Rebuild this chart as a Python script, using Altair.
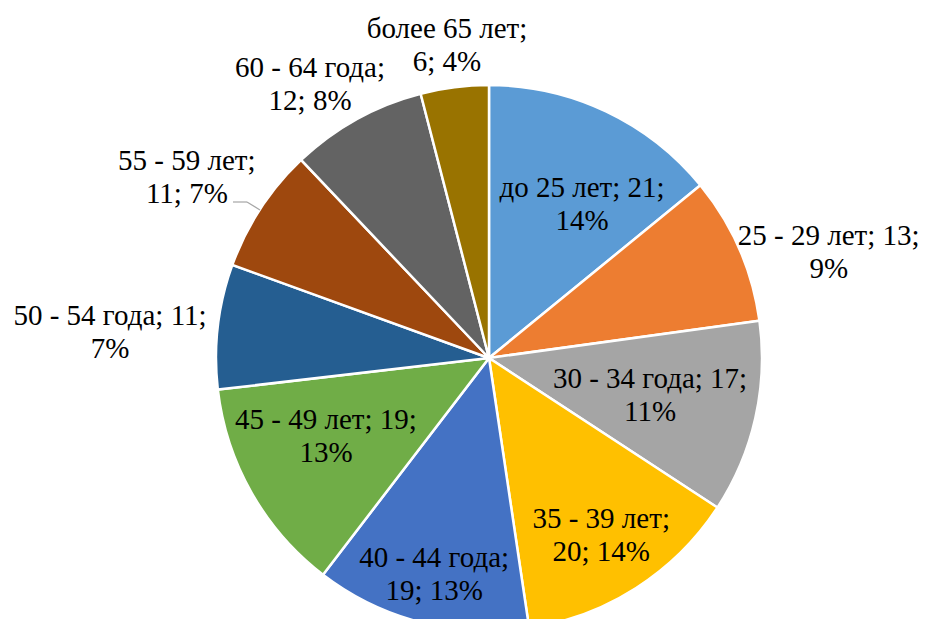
import altair as alt
import pandas as pd

categories = ["до 25 лет", "25 - 29 лет", "30 - 34 года", "35 - 39 лет", "40 - 44 года",
              "45 - 49 лет", "50 - 54 года", "55 - 59 лет", "60 - 64 года", "более 65 лет"]
values = [21, 13, 17, 20, 19, 19, 11, 11, 12, 6]
label_texts = [
    "до 25 лет; 21;\n14%",
    "25 - 29 лет; 13;\n9%",
    "30 - 34 года; 17;\n11%",
    "35 - 39 лет;\n20; 14%",
    "40 - 44 года;\n19; 13%",
    "45 - 49 лет; 19;\n13%",
    "50 - 54 года; 11;\n7%",
    "55 - 59 лет;\n11; 7%",
    "60 - 64 года;\n12; 8%",
    "более 65 лет;\n6; 4%",
]
colors = ["#5B9BD5", "#ED7D31", "#A5A5A5", "#FFC000", "#4472C4",
          "#70AD47", "#255E91", "#9E480E", "#636363", "#997300"]

# label placement styles: distance from centre and small nudges (px)
label_radius = [182, 363, 163, 210, 223, 180, 378, 360, 325, 313]
label_dx = [15, 7, 2, -1, 1, -6.5, -3.5, -1, -21.4, -2.5]
label_dy = [-6, 23, -14.3, -15.4, -16.4, -26.9, 1.9, 0.1, -5.3, -19]

df = pd.DataFrame({
    "idx": list(range(len(categories))),
    "cat": categories,
    "val": values,
    "label": label_texts,
    "lr": label_radius,
})

CX, CY, R = 481, 350, 273
FONT = "Liberation Serif"

base = alt.Chart(df)

arcs = base.mark_arc(outerRadius=R, stroke="white", strokeWidth=2.5).encode(
    theta=alt.Theta("val:Q", stack=True),
    order=alt.Order("idx:Q"),
    color=alt.Color("cat:N", scale=alt.Scale(domain=categories, range=colors),
                    sort=None, legend=None),
    x=alt.value(CX),
    y=alt.value(CY),
)

layers = [arcs]
for i in range(len(categories)):
    t = base.transform_window(
        cum="sum(val)", sort=[alt.SortField("idx")], frame=[None, 0]
    ).transform_calculate(
        mid="datum.cum - datum.val / 2"
    ).transform_filter(alt.datum.idx == i).mark_text(
        font=FONT, fontSize=29, color="black",
        lineBreak="\n", lineHeight=33, align="center", baseline="middle",
        dx=label_dx[i], dy=label_dy[i],
    ).encode(
        theta=alt.Theta("mid:Q", stack=None),
        radius=alt.Radius("lr:Q", scale=None, stack=None),
        text="label:N",
        x=alt.value(CX),
        y=alt.value(CY),
    )
    layers.append(t)

# leader line for the "55 - 59 лет" label
leader1 = alt.Chart(df).transform_filter(alt.datum.idx == 7).mark_rule(
    color="#A6A6A6", strokeWidth=1.2
).encode(x=alt.value(225), x2=alt.value(239), y=alt.value(194), y2=alt.value(194))
leader2 = alt.Chart(df).transform_filter(alt.datum.idx == 7).mark_rule(
    color="#A6A6A6", strokeWidth=1.2
).encode(x=alt.value(239), x2=alt.value(252), y=alt.value(194), y2=alt.value(202))
layers += [leader1, leader2]

chart = alt.layer(*layers).properties(
    width=916, height=611, autosize="none", padding=0, background="white"
).configure_view(stroke=None)

chart.save("out.html", embed_options={"renderer": "svg", "actions": False})
